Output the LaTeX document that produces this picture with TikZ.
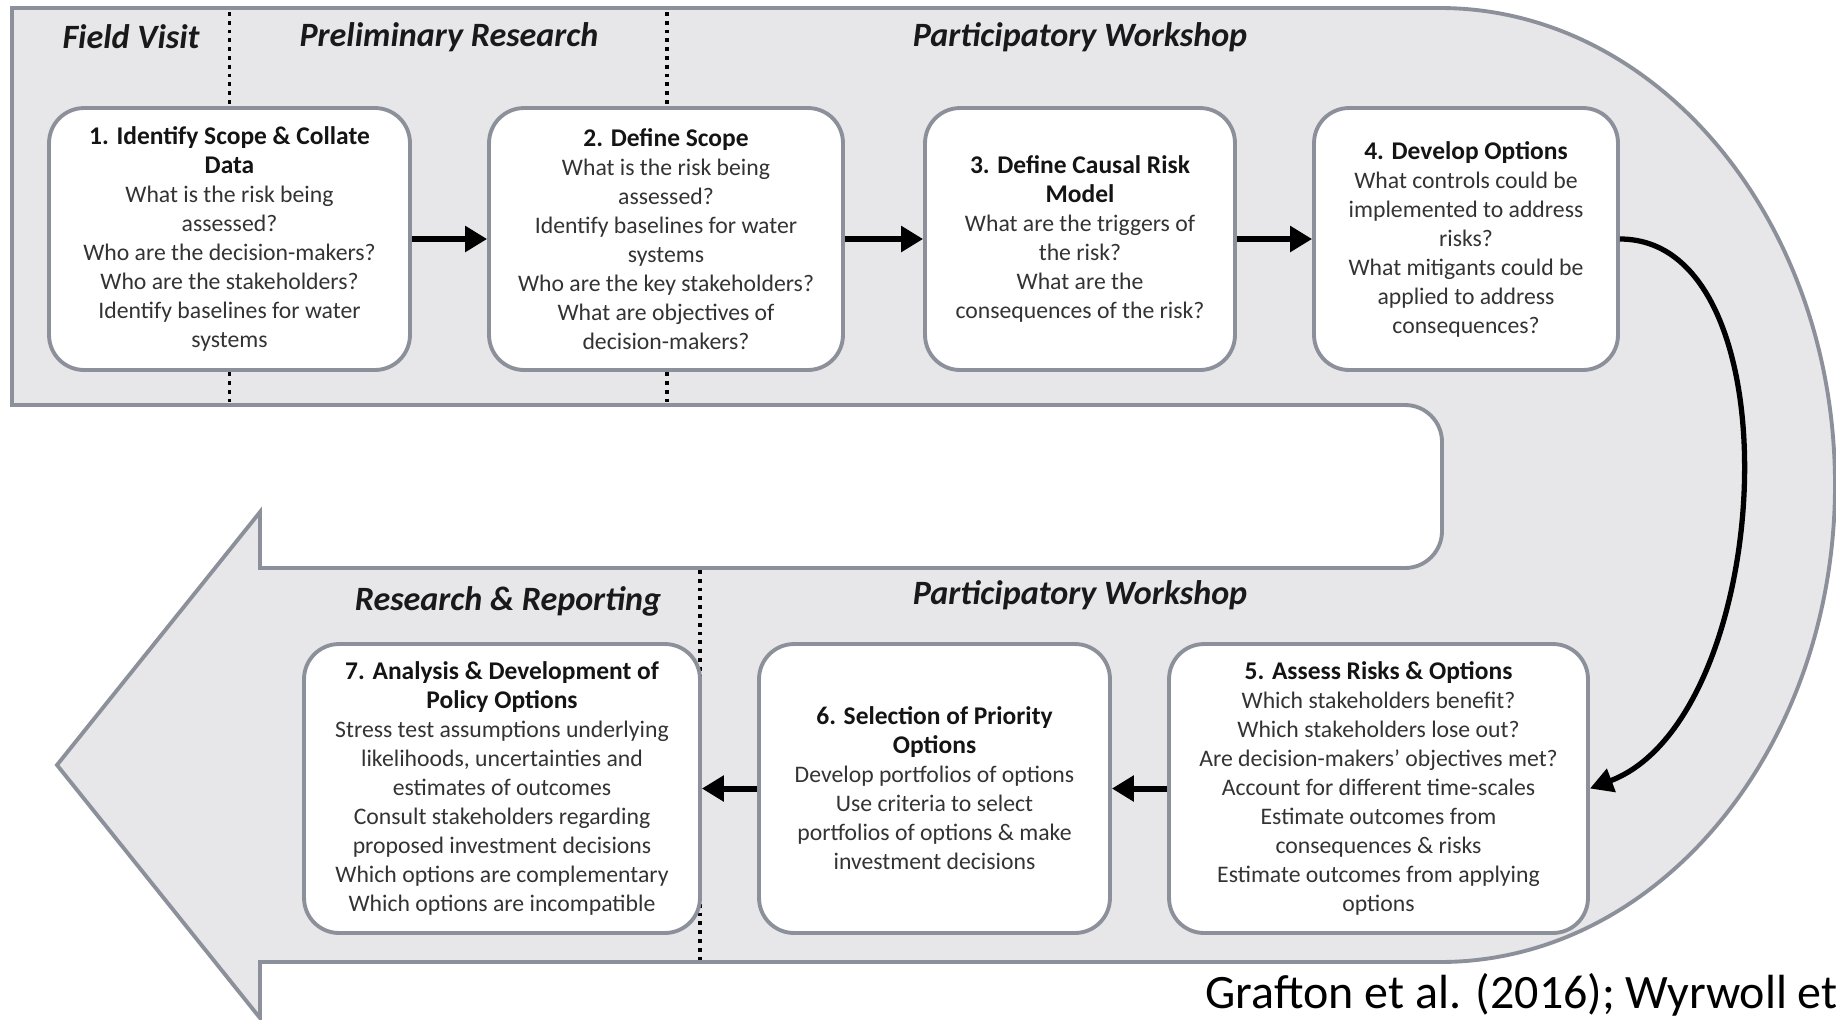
\documentclass[tikz,border=0pt]{standalone}
\usepackage{fontspec}
\setmainfont{Carlito}
\usepackage{xcolor}
\usetikzlibrary{arrows.meta,positioning,calc}
\definecolor{bandfill}{HTML}{E7E6E8}
\definecolor{edgegray}{HTML}{8C909A}
\definecolor{bodygray}{HTML}{333333}
\newcommand{\stagehead}[1]{{\fontsize{14.5}{16.5}\selectfont\bfseries\color{black!92}#1}}

\begin{document}
\begin{tikzpicture}[x=0.02cm,y=-0.02cm,
  stage/.style={draw=edgegray,line width=2.2pt,fill=white,rounded corners=0.7cm,
    align=center,inner sep=0pt,text=bodygray,font=\fontsize{13.5}{16.5}\selectfont},
  toprow/.style={stage,minimum height=5.24cm},
  lowrow/.style={stage,minimum height=5.78cm},
  phase/.style={font=\bfseries\itshape\fontsize{19.4}{22}\selectfont,text=black!90},
  sep/.style={line width=2.2pt,dash pattern=on 2.2pt off 2.8pt},
  flow/.style={line width=3.4pt,-{Triangle[length=0.44cm,width=0.5cm]}},
  loop/.style={line width=3pt,-{Triangle[length=0.46cm,width=0.48cm]}}]
\useasboundingbox (0,0) rectangle (1836,1019);
% U-shaped band ending in an arrow head
\filldraw[fill=bandfill,draw=edgegray,line width=2.2pt,line join=miter]
  (12,8) -- (1440,8) arc[start angle=-90,end angle=90,x radius=395,y radius=477]
  -- (260,962) -- (260,1018) -- (57,765) -- (260,512) -- (260,568) -- (1405,568)
  arc[start angle=90,end angle=0,radius=37] -- (1442,442)
  arc[start angle=0,end angle=-90,radius=37] -- (12,405) -- cycle;
% phase separators
\draw[sep] (229.5,12) -- (229.5,403);
\draw[sep] (667,12) -- (667,403);
\draw[sep] (700,570) -- (700,960);
% phase names
\node[phase] (fv) at (131,37) {Field Visit};
\node[phase] (pr) at (449,37) {Preliminary Research};
\node[phase] (pwa) at (1080,37) {Participatory Workshop};
\node[phase] (rr) at (508,601) {Research \& Reporting};
\node[phase] (pwb) at (1080,595) {Participatory Workshop};
% top row of stages
\node[toprow,minimum width=7.22cm] (b1) at (229.5,239) {\stagehead{1. Identify Scope \& Collate}\\\stagehead{Data}\\What is the risk being\\assessed?\\Who are the decision-makers?\\Who are the stakeholders?\\Identify baselines for water\\systems};
\node[toprow,minimum width=7.08cm] (b2) at (666,239) {\stagehead{2. Define Scope}\\What is the risk being\\assessed?\\Identify baselines for water\\systems\\Who are the key stakeholders?\\What are objectives of\\decision-makers?};
\node[toprow,minimum width=6.2cm] (b3) at (1080,239) {\stagehead{3. Define Causal Risk}\\\stagehead{Model}\\What are the triggers of\\the risk?\\What are the\\consequences of the risk?};
\node[toprow,minimum width=6.08cm] (b4) at (1466,239) {\stagehead{4. Develop Options}\\What controls could be\\implemented to address\\risks?\\What mitigants could be\\applied to address\\consequences?};
% bottom row of stages
\node[lowrow,minimum width=8.38cm] (b5) at (1378.5,788.5) {\stagehead{5. Assess Risks \& Options}\\Which stakeholders benefit?\\Which stakeholders lose out?\\Are decision-makers’ objectives met?\\Account for different time-scales\\Estimate outcomes from\\consequences \& risks\\Estimate outcomes from applying\\options};
\node[lowrow,minimum width=7.02cm] (b6) at (934.5,788.5) {\stagehead{6. Selection of Priority}\\\stagehead{Options}\\Develop portfolios of options\\Use criteria to select\\portfolios of options \& make\\investment decisions};
\node[lowrow,minimum width=7.92cm] (b7) at (502,788.5) {\stagehead{7. Analysis \& Development of}\\\stagehead{Policy Options}\\Stress test assumptions underlying\\likelihoods, uncertainties and\\estimates of outcomes\\Consult stakeholders regarding\\proposed investment decisions\\Which options are complementary\\Which options are incompatible};
% flow between stages
\draw[flow] (b1) -- (b2);
\draw[flow] (b2) -- (b3);
\draw[flow] (b3) -- (b4);
\draw[loop] (b4.east) .. controls +(180,0) and +(185,-70) .. (b5.east);
\draw[flow] (b5) -- (b6);
\draw[flow] (b6) -- (b7);
% source
\node[anchor=base east,inner sep=0pt,font=\fontsize{27.3}{30}\selectfont] (src) at (1838,1008) {Grafton et al. (2016); Wyrwoll et};
\end{tikzpicture}
\end{document}
